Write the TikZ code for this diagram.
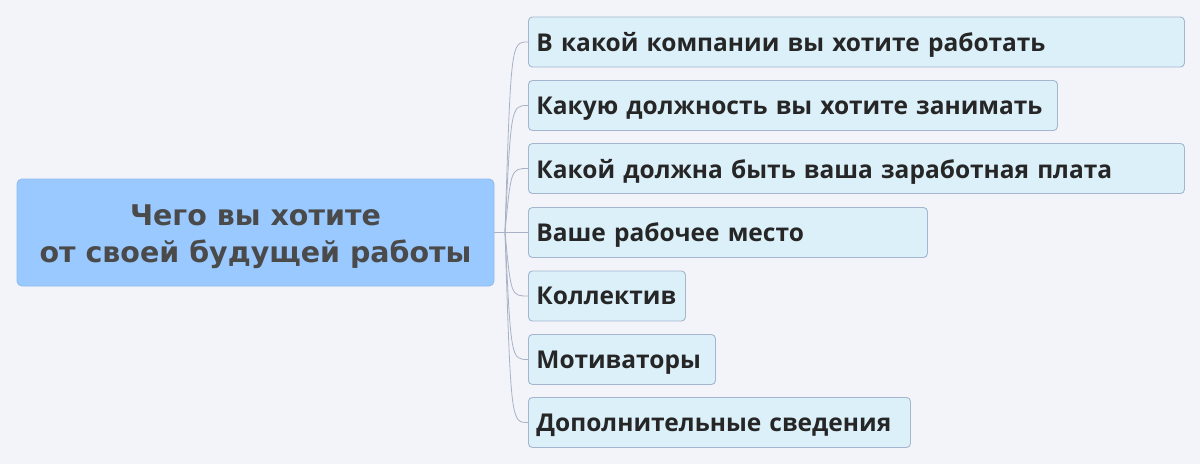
\documentclass[tikz,border=0pt]{standalone}
\usepackage{fontspec}
\setmainfont{Open Sans}
\newfontfamily\centfont{DejaVu Sans}
\definecolor{bgc}{HTML}{F2F4F9}
\definecolor{childfill}{HTML}{DCF0FA}
\definecolor{childdraw}{HTML}{A3B6CE}
\definecolor{centfill}{HTML}{99C9FF}
\definecolor{centdraw}{HTML}{8DBBEE}
\definecolor{centtext}{HTML}{4A4A4A}
\definecolor{childtext}{HTML}{262626}
\definecolor{linkc}{HTML}{A8B2C4}
\tikzset{
  childbox/.style={draw=childdraw, fill=childfill, line width=0.9pt, rounded corners=4pt,
    anchor=west, minimum height=50pt, inner xsep=8pt, inner ysep=0pt, align=left,
    text=childtext, font=\fontsize{24.5}{29}\selectfont\bfseries, text depth=0pt},
  centbox/.style={draw=centdraw, fill=centfill, line width=0.9pt, rounded corners=5pt,
    minimum width=477pt, minimum height=107pt, align=center, text=centtext,
    font=\centfont\fontsize{28.5}{37}\selectfont\bfseries, text height=66pt, text depth=7pt},
  link/.style={draw=linkc, line width=0.8pt}
}
\begin{document}
\begin{tikzpicture}[x=1pt,y=-1pt]
\useasboundingbox[fill=bgc] (0,0) rectangle (1200,464);
\node[centbox] (c) at (255.5,232.5) {Чего вы хотите\\от своей будущей работы};
\coordinate (j) at (505,232);
\node[childbox, minimum width=656pt, text width=640pt] (n1) at (528,42) {В какой компании вы хотите работать};
\node[childbox, minimum width=529pt, text width=513pt] (n2) at (528,105.5) {Какую должность вы хотите занимать};
\node[childbox, minimum width=656pt, text width=640pt] (n3) at (528,168.5) {Какой должна быть ваша заработная плата};
\node[childbox, minimum width=399pt, text width=383pt] (n4) at (528,232.5) {Ваше рабочее место};
\node[childbox, minimum width=157pt, text width=141pt] (n5) at (528,296) {Коллектив};
\node[childbox, minimum width=187pt, text width=171pt] (n6) at (528,359.5) {Мотиваторы};
\node[childbox, minimum width=382pt, text width=366pt] (n7) at (528,422.5) {Дополнительные сведения};
\draw[link] (c.east |- j) -- (n4.west |- j);
\foreach \n in {n1,n2,n3,n5,n6,n7}{
  \draw[link] (j) .. controls ([xshift=6pt]j |- \n.west) .. (\n.west);
}
\end{tikzpicture}
\end{document}
